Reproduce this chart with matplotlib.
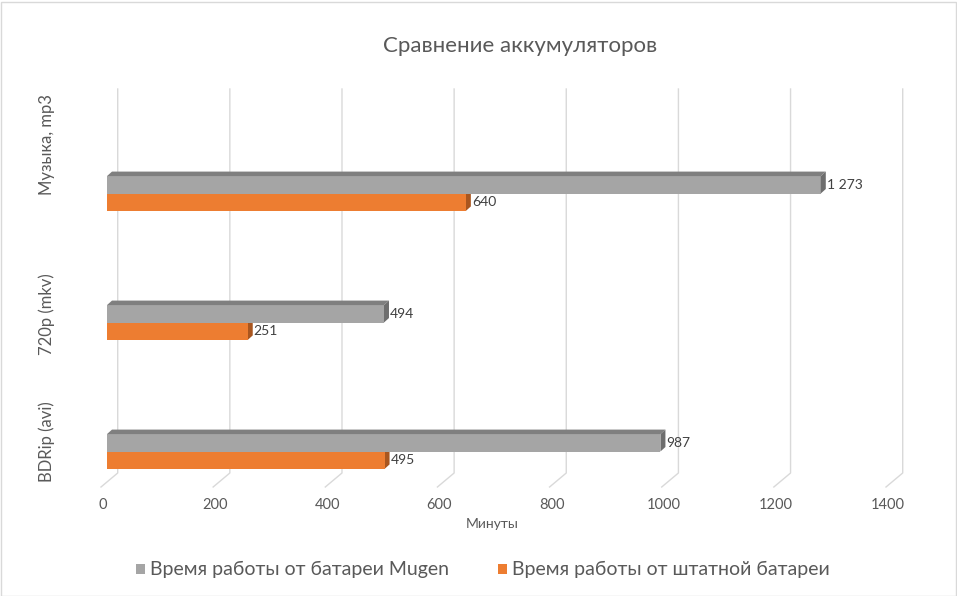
import matplotlib
matplotlib.use("Agg")
import matplotlib.pyplot as plt
from matplotlib.patches import Polygon, Rectangle
import matplotlib.transforms as mtransforms

# ---- data ----
categories = ["BDRip (avi)", "720p (mkv)", "Музыка, mp3"]
mugen = [987, 494, 1273]
stock = [495, 251, 640]
series_names = ["Время работы от батареи Mugen", "Время работы от штатной батареи"]
xticks = [0, 200, 400, 600, 800, 1000, 1200, 1400]
title = "Сравнение аккумуляторов"
xlabel = "Минуты"

# ---- styling ----
W, H = 957, 596
plt.rcParams['font.family'] = ['Lato', 'DejaVu Sans']
TXT = '#595959'
GRAY, GRAY_TOP, GRAY_SIDE = '#a5a5a5', '#7f7f7f', '#6e6e6e'
ORANGE, ORANGE_SIDE = '#ed7d31', '#a9561f'
GRID = '#d9d9d9'

fig = plt.figure(figsize=(W / 100, H / 100), dpi=100)

def fx(px):
    return px / W

def fy(py):
    return 1 - py / H

ax_l, ax_r, ax_t, ax_b = 107, 892, 89, 487
ax = fig.add_axes([fx(ax_l), fy(ax_b), (ax_r - ax_l) / W, (ax_b - ax_t) / H])
ax.set_facecolor('none')
for s in ax.spines.values():
    s.set_visible(False)

cat_px = 129.0      # pixels between category centres
first_px = 451.5    # pixel y of first category centre
ylo = (first_px - ax_b) / cat_px
yhi = (first_px - ax_t) / cat_px
ax.set_xlim(xticks[0], xticks[-1])
ax.set_ylim(ylo, yhi)

px_x = (xticks[-1] - xticks[0]) / (ax_r - ax_l)
px_y = (yhi - ylo) / (ax_b - ax_t)

# back wall gridlines + floor slant
for t in xticks:
    ax.plot([t - 6 * px_x, t + 10.7 * px_x, t + 10.7 * px_x],
            [ylo, ylo + 14 * px_y, yhi],
            color=GRID, lw=1, clip_on=False, zorder=0)

h = 0.135
dx = 5 * px_x
dy = 4.5 * px_y

def fmt(v):
    return f"{v:,}".replace(",", " ")

for i, (g, o) in enumerate(zip(mugen, stock)):
    # orange bar (lower)
    ax.add_patch(Polygon([(o, i - h), (o, i), (o + dx, i + dy), (o + dx, i - h + dy)],
                         closed=True, color=ORANGE_SIDE, lw=0, zorder=2))
    ax.barh(i - h / 2, o, height=h, color=ORANGE, lw=0, zorder=3)
    # gray bar (upper)
    ax.barh(i + h / 2, g, height=h, color=GRAY, lw=0, zorder=4)
    ax.add_patch(Polygon([(0, i + h), (g, i + h), (g + dx, i + h + dy), (dx, i + h + dy)],
                         closed=True, color=GRAY_TOP, lw=0, zorder=4))
    ax.add_patch(Polygon([(g, i), (g, i + h), (g + dx, i + h + dy), (g + dx, i + dy)],
                         closed=True, color=GRAY_SIDE, lw=0, zorder=4))
    ax.text(g + dx + 1 * px_x, i + h / 2, fmt(g), ha='left', va='center',
            fontsize=10, color='#404040', zorder=5)
    ax.text(o + dx + 1 * px_x, i - h / 2, fmt(o), ha='left', va='center',
            fontsize=10, color='#404040', zorder=5)

# x tick labels
ax.set_xticks(xticks)
ax.set_xticklabels([str(t) for t in xticks])
ax.set_yticks([])
ax.tick_params(axis='x', length=0, pad=8, labelsize=10.5, labelcolor=TXT)
shift = mtransforms.ScaledTranslation(-4 / 100, 0, fig.dpi_scale_trans)
for lbl in ax.get_xticklabels():
    lbl.set_transform(lbl.get_transform() + shift)

# category labels (rotated)
cat_label_px = [442, 314, 144.5]
for name, py in zip(categories, cat_label_px):
    fig.text(fx(47), fy(py), name, rotation=90, ha='center', va='center',
             fontsize=12, color=TXT)

fig.text(fx(492), fy(524), xlabel, ha='center', va='center', fontsize=10, color=TXT)
fig.text(fx(520), fy(46), title, ha='center', va='center', fontsize=16, color=TXT)

# legend
leg_y = 569
for (sx, tx), name, col in zip([(136, 150), (498, 512)], series_names, [GRAY, ORANGE]):
    fig.add_artist(Rectangle((fx(sx), fy(leg_y + 5)), 9 / W, 10 / H,
                             transform=fig.transFigure, color=col, lw=0))
    fig.text(fx(tx), fy(leg_y), name, ha='left', va='center', fontsize=14, color=TXT)

# outer frame
fig.add_artist(Rectangle((0.5 / W, 0.5 / H), 1 - 2 / W, 1 - 2 / H,
                         transform=fig.transFigure, fill=False, edgecolor=GRID, lw=1))

fig.savefig("out.png", dpi=100)
